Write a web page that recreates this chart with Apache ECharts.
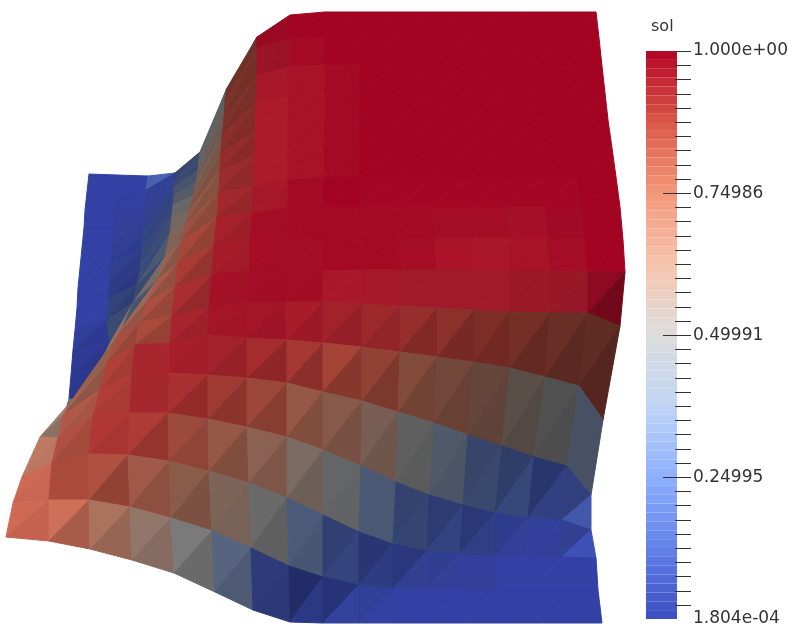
<!DOCTYPE html>
<html><head><meta charset="utf-8">
<style>html,body{margin:0;padding:0;background:#fff}#c{width:792px;height:642px}</style>
<script src="https://cdn.jsdelivr.net/npm/echarts@6/dist/echarts.min.js"></script>
</head><body><div id="c"></div>
<script>
// projected mesh nodes, row 0 = front edge, row 16 = back edge
const nodeX = [
[6,49,90,132,174,215,253,290,323,359,393,428,462,497,530,565,602],
[13,49,89,130,171,212,251,289,323,359,393,428,462,497,530,565,598],
[22,52,89,128,169,209,249,287,323,359,393,427,460,495,527,562,596],
[40,58,93,130,168,208,247,287,323,361,396,429,463,495,528,562,591],
[67,63,100,132,170,208,247,287,323,362,398,434,468,502,534,567,591],
[69,72,107,135,170,208,247,287,323,362,400,437,474,510,545,579,603],
[71,98,118,140,172,209,248,285,323,362,400,437,474,510,550,588,620],
[73,110,123,147,175,212,250,285,323,362,400,437,474,510,550,588,625],
[75,107,133,157,178,214,250,287,324,361,399,435,472,510,548,585,623],
[77,108,137,165,182,217,252,288,324,360,397,433,471,508,545,582,620],
[78,110,140,170,185,219,253,288,324,360,396,432,469,505,543,578,616],
[80,111,142,172,189,220,254,288,324,360,396,431,467,503,538,574,612],
[82,112,143,173,193,221,255,288,325,360,395,431,466,502,536,571,608],
[84,113,144,174,196,222,256,289,325,360,395,430,466,501,534,568,605],
[85,115,145,174,198,224,257,289,325,360,395,430,465,500,533,566,602],
[87,116,146,175,199,225,257,290,325,360,395,430,465,500,532,565,599],
[89,117,148,175,200,227,257,290,325,360,395,430,465,500,530,563,596]];
const nodeY = [
[537,541,549,560,573,592,610,622,623,623,623,623,623,623,623,623,623],
[503,500,500,507,518,531,548,566,577,585,589,588,590,590,590,590,590],
[477,463,454,455,461,471,483,498,515,532,544,551,554,557,557,557,558],
[437,438,415,413,413,419,427,437,450,466,482,495,505,513,518,520,530],
[406,415,390,375,373,375,378,383,392,401,412,423,435,446,457,466,495],
[398,400,363,345,343,335,338,340,343,347,352,357,362,368,377,386,420],
[375,367,335,322,316,308,302,302,302,304,306,308,310,312,313,313,326],
[350,343,327,302,287,275,270,270,271,270,270,270,270,271,271,272,272],
[330,320,303,280,263,245,240,240,239,239,239,238,238,238,238,238,240],
[308,298,285,257,240,217,214,208,207,207,207,207,207,207,207,207,207],
[288,280,268,233,225,192,187,180,178,177,177,177,177,177,177,177,177],
[268,262,250,215,210,170,157,150,148,148,148,148,148,148,148,148,148],
[248,245,233,205,196,152,133,123,122,122,122,122,122,122,122,122,120],
[228,228,217,195,182,135,103,95,93,93,93,93,93,93,93,93,93],
[210,212,205,187,170,118,75,67,65,65,65,65,65,65,65,65,66],
[192,195,190,180,160,100,48,39,38,38,38,38,38,38,38,38,38],
[174,175,176,173,152,88,37,15,12,12,12,12,12,12,12,12,12]];
// sol of each mesh cell, percent
const solCells = [
[82,80,72,62,50,32,6,2,2,1,0,0,0,0,0,0],
[82,86,85,79,73,62,50,29,12,5,3,2,1,0,0,0],
[74,85,91,90,84,77,70,58,48,30,16,9,5,2,1,3],
[62,82,90,93.5,92,89,85,77,72,64,50,36,22,15,7,9],
[50,77,89,94,95.5,94.5,92.5,90,87.5,85,78,75,70,58,50,34],
[0,74,84,86,94.5,97,97,96,94.5,93,91,90,89.5,87,85,85],
[0,65,78,84,92.5,97.5,98.5,98.5,96.5,96.5,96,96,96,96,96,98.5],
[0,21,30,80,90,96,98.5,98.5,99,99,98.5,97.5,97,97.5,98.5,100],
[0,11,21,73,86,95,98.5,99,99,99,99,98.5,98.5,98,99,100],
[0,3,17,65,81,93,96.5,99,100,99.5,99.5,99.5,99.5,99.5,99.5,100],
[0,3,14,57,76,92,96,97.5,99,100,100,100,100,100,100,100],
[0,2,9,50,73,91.5,96,97.5,99,100,100,100,100,100,100,100],
[0,2,5,40,66,90,96,97.5,99,100,100,100,100,100,100,100],
[0,1,4,30,60,88,96.5,97.5,99,100,100,100,100,100,100,100],
[0,0,3,21,53,86.5,97,99,100,100,100,100,100,100,100,100],
[0,0,12,17,50,85,99,100,100,100,100,100,100,100,100,100]];
// cells whose lower-right triangle lies on the other side of a fold or steep change: [row, col, sol percent]
const solLowerTriangle = [
[7,1,61],[7,2,73],[8,2,55],[9,2,31],[10,2,22],[11,2,16],[12,2,11],[13,2,7],[15,2,2],[15,3,23]];
// surface brightness of the upper-left and lower-right triangle of each cell, percent
const lightUpper = [
[90,88,70,60,55,51,58,52,60,78,86,86,86,86,86,86],
[90,77,79,68,57,51,48,48,50,55,62,73,80,86,86,86],
[78,79,85,83,69,62,57,52,46,46,46,51,57,71,80,72],
[65,77,85,83,83,75,70,62,55,49,43,43,42,44,51,56],
[50,69,82,85,86,82,81,79,76,65,55,47,41,38,36,40],
[75,70,74,77,85,87,87,87,82,78,72,67,59,53,47,43],
[78,61,69,76,84,88,89,89,89,87,84,84,84,81,79,76],
[81,46,44,71,81,86,89,89,90,90,89,91,90,90,89,90],
[86,54,46,62,75,85,89,90,90,90,90,89,89,89,88,90],
[86,67,50,53,67,80,87,90,90,90,90,90,90,90,90,90],
[86,71,53,49,60,76,89,90,90,90,90,90,90,90,90,90],
[86,74,59,47,55,72,89,90,90,90,90,90,90,90,90,90],
[86,76,67,43,51,66,89,90,90,90,90,90,90,90,90,90],
[86,80,71,44,47,59,87,90,90,90,90,90,90,90,90,90],
[86,84,73,45,46,55,82,90,90,90,90,90,90,90,90,90],
[86,86,75,46,44,50,82,90,90,90,90,90,90,90,90,90]];
const lightLower = [
[85,72,62,55,48,46,56,66,78,82,86,86,86,86,86,86],
[88,77,65,60,51,49,43,46,54,62,72,76,80,86,86,86],
[76,74,82,71,64,54,51,46,45,46,48,58,64,76,80,90],
[57,73,81,83,73,66,61,54,49,45,41,41,44,51,60,77],
[50,60,77,85,84,77,70,66,62,56,48,43,39,35,35,40],
[70,61,67,68,80,86,83,81,76,72,63,57,54,46,41,38],
[72,55,61,67,74,86,88,88,89,87,84,84,84,81,78,62],
[76,57,65,63,71,84,89,89,90,90,89,91,90,90,89,90],
[86,50,51,55,67,80,89,90,90,90,90,89,89,89,88,90],
[86,63,46,52,61,75,87,90,90,90,90,90,90,90,90,90],
[86,67,47,50,55,71,89,90,90,90,90,90,90,90,90,90],
[86,71,50,46,51,67,89,90,90,90,90,90,90,90,90,90],
[86,74,55,43,48,62,89,90,90,90,90,90,90,90,90,90],
[86,79,62,44,45,56,87,90,90,90,90,90,90,90,90,90],
[86,85,72,45,44,52,80,90,90,90,90,90,90,90,90,90],
[86,85,75,44,43,49,85,90,90,90,90,90,90,90,90,90]];
// cool-to-warm colour table for sol
const mapStops = [0,0.125,0.25,0.375,0.5,0.625,0.75,0.875,1];
const mapColors = [[59,76,192],[98,130,234],[141,176,254],[192,212,245],[221,221,221],[245,196,173],[244,152,122],[217,88,71],[180,4,38]];
const solMin = 1.804e-4, solMax = 1;
const majorLabels = [0.74986,0.49991,0.24995];
const topLabel = '1.000e+00', bottomLabel = '1.804e-04';
const bandCount = 64, tickCount = 40;

function solColor(s){
  let i=0; while(i<mapStops.length-2 && s>mapStops[i+1]) i++;
  const t=(s-mapStops[i])/(mapStops[i+1]-mapStops[i]);
  return mapColors[i].map((a,k)=>a+(mapColors[i+1][k]-a)*t);
}
const css=(c,l)=>'rgb('+c.map(v=>Math.round(Math.min(255,v*l))).join(',')+')';
const lowerSol=(r,c)=>{const o=solLowerTriangle.find(e=>e[0]===r&&e[1]===c);return o?o[2]:solCells[r][c];};

const triData=[];
for(let r=15;r>=0;r--) for(let c=0;c<16;c++){
  triData.push([nodeX[r][c],nodeY[r][c],nodeX[r+1][c],nodeY[r+1][c],nodeX[r+1][c+1],nodeY[r+1][c+1],solCells[r][c]/100,lightUpper[r][c]/100]);
  triData.push([nodeX[r][c],nodeY[r][c],nodeX[r+1][c+1],nodeY[r+1][c+1],nodeX[r][c+1],nodeY[r][c+1],lowerSol(r,c)/100,lightLower[r][c]/100]);
}
const step=(solMax-solMin)/bandCount, bandData=[];
for(let i=0;i<bandCount;i++) bandData.push([solMin+i*step,solMin+(i+1)*step]);
// ticks: [sol value, is major]
const tstep=(solMax-solMin)/tickCount, tickData=[];
for(let i=1;i<=tickCount;i++) tickData.push([i===tickCount?solMax:solMin+i*tstep,(i%10===0&&i!==tickCount)?1:0]);

const hiddenLine={show:false};
const barRect={left:646,top:51,width:31,height:568};
const chart=echarts.init(document.getElementById('c'),null,{renderer:'canvas'});
chart.setOption({
  animation:false,
  backgroundColor:'#fff',
  title:{text:'sol',left:646,top:14,textStyle:{fontFamily:'DejaVu Sans',fontSize:16,fontWeight:'normal',color:'#333'}},
  grid:[{left:0,top:0,width:792,height:642},barRect],
  xAxis:[
    {gridIndex:0,type:'value',min:0,max:792,show:false},
    {gridIndex:1,type:'value',min:0,max:31,show:false}],
  yAxis:[
    {gridIndex:0,type:'value',min:0,max:642,inverse:true,show:false},
    {gridIndex:1,type:'value',min:solMin,max:solMax,position:'right',splitLine:{show:false},axisLine:hiddenLine,
      axisTick:{show:false},
      axisLabel:{show:true,margin:16,customValues:[solMin].concat(majorLabels,[solMax]),fontFamily:'DejaVu Sans',fontSize:17,color:'#333',
        formatter:v=>v===solMax?topLabel:v===solMin?bottomLabel:v.toFixed(5)}}
  ],
  series:[
    {type:'custom',coordinateSystem:'cartesian2d',xAxisIndex:0,yAxisIndex:0,silent:true,clip:false,z:2,
     data:triData,
     encode:{x:[0,2,4],y:[1,3,5]},
     renderItem:(p,api)=>{
       const pts=[0,2,4].map(i=>api.coord([api.value(i),api.value(i+1)]));
       const col=css(solColor(api.value(6)),api.value(7));
       return {type:'polygon',shape:{points:pts},style:{fill:col,stroke:col,lineWidth:1}};
     }},
    {type:'custom',coordinateSystem:'cartesian2d',xAxisIndex:1,yAxisIndex:1,silent:true,clip:false,z:3,
     data:bandData,
     encode:{y:[0,1]},
     renderItem:(p,api)=>{
       const a=api.coord([0,api.value(0)]),b=api.coord([31,api.value(1)]);
       const col=css(solColor((api.value(0)+api.value(1))/2),1);
       return {type:'rect',shape:{x:a[0],y:b[1],width:b[0]-a[0],height:a[1]-b[1]},style:{fill:col}};
     }},
    {type:'custom',coordinateSystem:'cartesian2d',xAxisIndex:1,yAxisIndex:1,silent:true,clip:false,z:4,
     data:tickData,
     encode:{y:0},
     renderItem:(p,api)=>{
       const y=Math.round(api.coord([0,api.value(0)])[1])+0.5;
       const a=api.coord([api.value(1)?17:29,api.value(0)])[0],b=api.coord([45,api.value(0)])[0];
       return {type:'line',shape:{x1:a,y1:y,x2:b,y2:y},style:{stroke:'#333',lineWidth:1}};
     }}
  ]
});
</script></body></html>
